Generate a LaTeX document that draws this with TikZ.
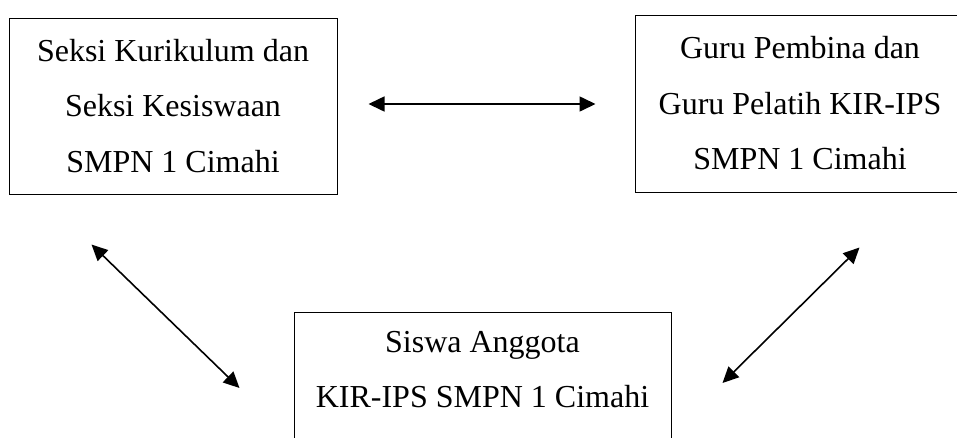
\documentclass[tikz,border=0pt]{standalone}
\usepackage{fontspec}
\setmainfont{Liberation Serif}
\usetikzlibrary{calc,arrows.meta}
\tikzset{
	% boxes and double arrows of the chart
	box/.style={rectangle,draw,line width=1pt,align=center,inner sep=0pt,font=\fontsize{32}{55.5}\selectfont},
	link/.style={{Triangle[length=16pt,width=15pt]}-{Triangle[length=16pt,width=15pt]},line width=1.6pt}
}
\begin{document}
\begin{tikzpicture}[x=1pt,y=-1pt]
	\useasboundingbox (0,0) rectangle (957,437);
	\clip (0,0) rectangle (957,437);
	% the three boxes
	\node(kur)[box,minimum width=328pt,minimum height=176pt] at (173,106) {Seksi Kurikulum dan\\Seksi Kesiswaan\\SMPN 1 Cimahi};
	\node(guru)[box,minimum width=330pt,minimum height=177pt] at (800,103.5) {Guru Pembina dan\\Guru Pelatih KIR-IPS\\SMPN 1 Cimahi};
	\node(siswa)[box,anchor=north,minimum width=377pt,text height=95pt,text depth=100pt] at (482.5,312) {Siswa Anggota\\KIR-IPS SMPN 1 Cimahi};
	% arrows between them
	\draw[link] ($(kur.east)+(31,-2)$) -- ($(guru.west)+(-39,0.5)$);
	\draw[link] ($(kur.south west)+(83,50)$) -- ($(siswa.north west)+(-54,76)$);
	\draw[link] ($(guru.south west)+(225,55)$) -- ($(siswa.north east)+(51,71)$);
\end{tikzpicture}
\end{document}
